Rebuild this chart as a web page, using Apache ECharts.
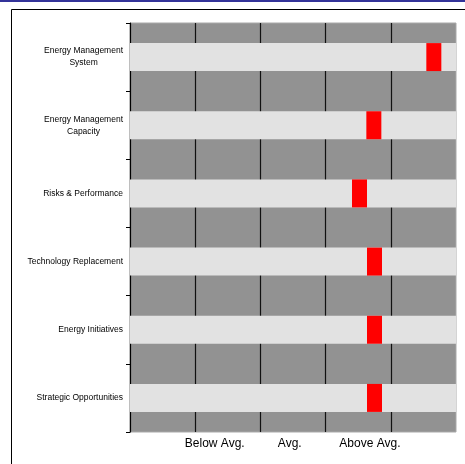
<!DOCTYPE html>
<html>
<head>
<meta charset="utf-8">
<script src="https://cdn.jsdelivr.net/npm/echarts@6/dist/echarts.min.js"></script>
<style>
  html, body { margin: 0; padding: 0; background: #ffffff; }
  #chart { width: 465px; height: 464px; }
</style>
</head>
<body>
<div id="chart"></div>
<script>
// Assessment areas, top to bottom
const categories = [
  'Energy Management\nSystem',
  'Energy Management\nCapacity',
  'Risks & Performance',
  'Technology Replacement',
  'Energy Initiatives',
  'Strategic Opportunities'
];

// Score for each area on the 0–5 rating scale (centre of the red marker)
const scores = [4.66, 3.74, 3.52, 3.75, 3.75, 3.75];

// Rating scale extent
const scaleMin = 0;
const scaleMax = 5;

// Rating words and where they sit on the scale
const ratingLabels = ['Below Avg.', 'Avg.', 'Above Avg.'];
const ratingPositions = [1.3, 2.45, 3.68];

const chart = echarts.init(document.getElementById('chart'), null, { renderer: 'canvas' });

const option = {
  animation: false,
  backgroundColor: '#ffffff',
  textStyle: { fontFamily: 'Liberation Sans, Arial, sans-serif' },
  graphic: [
    // thin navy rule across the top
    { type: 'rect', left: 0, top: 0, shape: { width: 465, height: 2 }, style: { fill: '#333399' }, silent: true },
    // outer frame
    { type: 'polyline', shape: { points: [[11.5, 470], [11.5, 9.5], [470, 9.5]] },
      style: { stroke: '#000000', lineWidth: 1, fill: null }, silent: true }
  ],
  grid: {
    left: 130, top: 23, right: 9, bottom: 32,
    show: true,
    backgroundColor: '#929292',
    borderColor: '#a9a9a9',
    borderWidth: 1
  },
  xAxis: {
    type: 'value',
    min: scaleMin,
    max: scaleMax,
    interval: 1,
    axisLine: { show: false },
    axisTick: { show: false },
    splitLine: {
      show: true,
      showMinLine: false,
      showMaxLine: false,
      lineStyle: { color: '#111111', width: 1.2 }
    },
    axisLabel: {
      customValues: ratingPositions,
      formatter: function (v) {
        const i = ratingPositions.indexOf(v);
        return i >= 0 ? ratingLabels[i] : '';
      },
      color: '#000000',
      fontSize: 12,
      margin: 6
    }
  },
  yAxis: {
    type: 'category',
    data: categories,
    inverse: true,
    axisLine: { show: true, lineStyle: { color: '#000000', width: 1.2 } },
    axisTick: { show: true, length: 4, lineStyle: { color: '#000000' } },
    splitLine: { show: false },
    axisLabel: {
      margin: 7,
      color: '#000000',
      formatter: function (v) {
        return v.split('\n').map(function (line) { return '{c|' + line + '}'; }).join('\n');
      },
      rich: {
        c: { align: 'center', fontSize: 8.5, lineHeight: 12, color: '#000000',
             fontFamily: 'Liberation Sans, Arial, sans-serif' }
      }
    }
  },
  series: [
    {
      // light band behind each area's marker
      type: 'bar',
      data: categories.map(function () { return scaleMax; }),
      barWidth: '41%',
      itemStyle: { color: '#e2e2e2' },
      silent: true,
      z: 2
    },
    {
      // score marker
      type: 'scatter',
      data: scores.map(function (s, i) { return [s, categories[i]]; }),
      symbol: 'rect',
      symbolSize: [15, 28],
      itemStyle: { color: '#ff0000', opacity: 1 },
      silent: true,
      z: 3
    }
  ]
};

chart.setOption(option);
</script>
</body>
</html>
